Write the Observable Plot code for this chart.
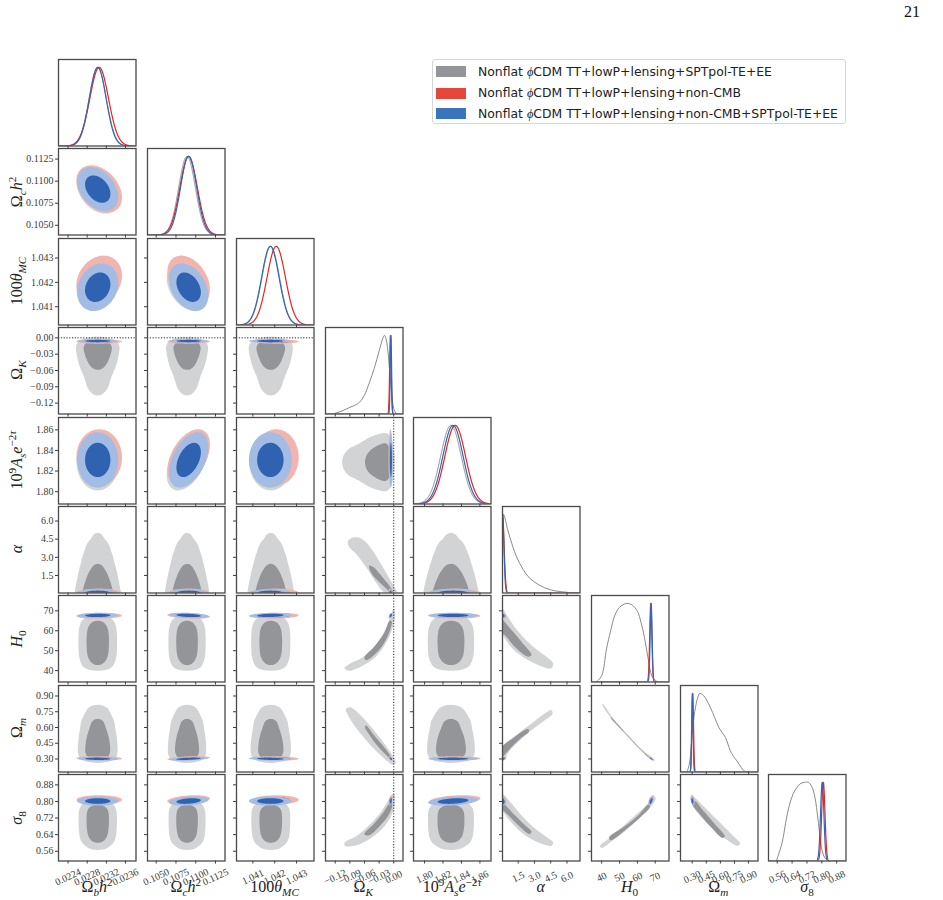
<!DOCTYPE html>
<html><head><meta charset="utf-8">
<script src="https://cdn.jsdelivr.net/npm/d3@7"></script>
<script src="https://cdn.jsdelivr.net/npm/@observablehq/plot@0.6"></script>
<style>
html,body{margin:0;padding:0;background:#fff;}
#fig{position:relative;width:943px;height:900px;overflow:hidden;background:#fff;}
.pan{position:absolute;}
.lab{position:absolute;font-family:'Liberation Serif','DejaVu Serif',serif;font-size:16px;color:#222;white-space:nowrap;line-height:1;}
.lab sub,.lab sup{font-size:70%;line-height:0;}
.legend{position:absolute;left:432px;top:59px;width:414px;height:65px;border:1px solid #d6d6d6;border-radius:3px;background:#fff;box-sizing:border-box;font-family:'DejaVu Sans',sans-serif;font-size:12.4px;color:#222;}
.legend .row{position:absolute;left:3px;height:14px;display:flex;align-items:center;white-space:nowrap;}
.legend .sw{width:30px;height:11px;margin-right:12px;}
.pnum{position:absolute;left:904px;top:3px;font-family:'Liberation Serif',serif;font-size:16px;color:#111;}
</style></head><body><div id="fig"></div>
<script>
// ---------------- data ----------------
const paramLabels = [
  'Ω<sub><i>b</i></sub><i>h</i><sup>2</sup>',
  'Ω<sub><i>c</i></sub><i>h</i><sup>2</sup>',
  '100<i>θ</i><sub><i>MC</i></sub>',
  'Ω<sub><i>K</i></sub>',
  '10<sup>9</sup><i>A</i><sub><i>s</i></sub><i>e</i><sup>−2<i>τ</i></sup>',
  '<i>α</i>',
  '<i>H</i><sub>0</sub>',
  'Ω<sub><i>m</i></sub>',
  '<i>σ</i><sub>8</sub>'
];
const axisDomains = [[0.02220,0.02382],[0.1039,0.1137],[1.04025,1.0438],[-0.14,0.019],[1.788,1.872],[0.05,7.2],[34.3,77.7],[0.176,1.0],[0.513,0.93]];
const tickValues = [[0.0224,0.0228,0.0232,0.0236],[0.1050,0.1075,0.1100,0.1125],[1.041,1.042,1.043],[-0.12,-0.09,-0.06,-0.03,0],[1.80,1.82,1.84,1.86],[1.5,3.0,4.5,6.0],[40,50,60,70],[0.30,0.45,0.60,0.75,0.90],[0.56,0.64,0.72,0.80,0.88]];
const tickLabels = [["0.0224","0.0228","0.0232","0.0236"],["0.1050","0.1075","0.1100","0.1125"],["1.041","1.042","1.043"],["−0.12","−0.09","−0.06","−0.03","0.00"],["1.80","1.82","1.84","1.86"],["1.5","3.0","4.5","6.0"],["40","50","60","70"],["0.30","0.45","0.60","0.75","0.90"],["0.56","0.64","0.72","0.80","0.88"]];
const legendLabels = ["Nonflat <i style=\"font-family:'Liberation Serif',serif\">ϕ</i>CDM TT+lowP+lensing+SPTpol-TE+EE","Nonflat <i style=\"font-family:'Liberation Serif',serif\">ϕ</i>CDM TT+lowP+lensing+non-CMB","Nonflat <i style=\"font-family:'Liberation Serif',serif\">ϕ</i>CDM TT+lowP+lensing+non-CMB+SPTpol-TE+EE"];

// gaussian summaries (mean, sd) per parameter; null = non-gaussian (read curve)
const grayMean = [0.02302, 0.1089, 1.04182, null, 1.8286, null, null, null, null];
const graySd   = [0.00018, 0.00105, 0.00040, null, 0.0112, null, null, null, null];
const redMean  = [0.02305, 0.1091, 1.04207, -0.0068, 1.8332, 0.05, 67.5, 0.306, 0.808];
const redSd    = [0.000195, 0.0011, 0.00042, 0.0016, 0.0112, 0.15, 0.6, 0.0085, 0.009];
const blueMean = [0.02302, 0.1091, 1.04180, -0.0058, 1.8308, 0.05, 67.7, 0.302, 0.802];
const blueSd   = [0.000175, 0.00102, 0.00040, 0.0014, 0.011, 0.13, 0.55, 0.0075, 0.009];
// correlation coefficients (row parameter vs column parameter)
const corrRows = [
  [],
  [-0.35],
  [0.2, -0.35],
  [0, 0, 0],
  [0, 0.45, 0, 0],
  [0, 0, 0, -0.3, 0],
  [0.1, -0.3, 0.2, 0.5, 0, -0.3],
  [-0.1, 0.4, -0.2, -0.5, 0, 0.3, -0.9],
  [0, 0.3, 0, 0.6, 0.3, -0.3, 0.7, -0.5]
];
// gray marginal curves
const grayOmegaKx = [-0.125,-0.11,-0.10,-0.09,-0.08,-0.07,-0.06,-0.05,-0.04,-0.03,-0.022,-0.019,-0.016,-0.012,-0.008,-0.004,0.0,0.004,0.008];
const grayOmegaKd = [0,0.03,0.055,0.085,0.11,0.15,0.24,0.40,0.58,0.80,0.97,1.0,0.96,0.80,0.52,0.24,0.07,0.015,0];
const grayAlphax = [0.05,0.15,0.5,0.75,1.0,1.35,1.95,2.55,3.45,4.5,5.9,7.0];
const grayAlphad = [1.0,1.0,0.82,0.70,0.59,0.46,0.30,0.19,0.10,0.04,0.01,0.002];
const grayH0x = [37,40,42.7,45,47.4,50,54,57,60,62,64,66,68,70,72];
const grayH0d = [0,0.08,0.42,0.65,0.85,0.95,1.0,0.98,0.9,0.76,0.56,0.3,0.08,0.02,0];
const grayOmegaMx = [0.245,0.27,0.289,0.31,0.335,0.36,0.381,0.423,0.46,0.494,0.54,0.582,0.62,0.654,0.706,0.75,0.777,0.82,0.847,0.87];
const grayOmegaMd = [0,0.1,0.31,0.6,0.82,0.95,1.0,0.97,0.9,0.82,0.69,0.57,0.5,0.44,0.27,0.18,0.14,0.06,0.02,0];
const graySigma8x = [0.555,0.585,0.611,0.63,0.647,0.665,0.682,0.705,0.727,0.745,0.762,0.78,0.798,0.816,0.835];
const graySigma8d = [0,0.22,0.56,0.75,0.86,0.93,0.98,1.0,1.0,0.95,0.82,0.52,0.17,0.04,0];
// gray 2D contour outlines [x (column param), y (row param)]
const grayAlphaOkOuter = [[-0.0944,4.25],[-0.0876,4.58],[-0.0706,4.61],[-0.057,4.25],[-0.0434,3.56],[-0.0265,2.46],[-0.0095,1.30],[0.0007,0.59],[0.0075,0.0],[-0.0163,0.0],[-0.0366,0.945],[-0.057,2.19],[-0.0774,3.29],[-0.091,3.84]];
const grayAlphaOkInner = [[-0.0502,2.32],[-0.042,2.2],[-0.023,1.36],[-0.006,0.48],[-0.002,0.15],[-0.009,0.12],[-0.0128,0.31],[-0.033,1.08],[-0.047,1.77]];
const grayH0OkOuter = [[-0.1012,41.2],[-0.091,43.33],[-0.0672,46.18],[-0.0401,52.03],[-0.0197,59.55],[-0.0061,67.08],[-0.0007,70.76],[0.0027,69.6],[-0.0027,61.23],[-0.0163,53.7],[-0.0367,47.01],[-0.0638,42.5],[-0.091,39.99]];
const grayH0OkInner = [[-0.060,46.7],[-0.0401,52.0],[-0.0197,58.7],[-0.0082,65.1],[-0.0041,64.6],[-0.0129,57.0],[-0.0333,49.5],[-0.057,45.3]];
const grayOmOkOuter = [[-0.0978,0.777],[-0.089,0.793],[-0.0672,0.713],[-0.0401,0.570],[-0.0163,0.4275],[-0.0027,0.332],[0.0041,0.259],[-0.0027,0.2465],[-0.0129,0.278],[-0.0333,0.364],[-0.057,0.4815],[-0.0808,0.618],[-0.0958,0.7355]];
const grayOmOkInner = [[-0.057,0.618],[-0.0401,0.523],[-0.0197,0.411],[-0.0061,0.322],[-0.0048,0.29],[-0.0163,0.341],[-0.0367,0.443],[-0.0536,0.554],[-0.059,0.6]];
const grayS8OkOuter = [[-0.1012,0.6004],[-0.074,0.6374],[-0.0468,0.6936],[-0.0265,0.7498],[-0.0129,0.798],[-0.0048,0.830],[0.0007,0.838],[0.0027,0.819],[0.0007,0.766],[-0.0095,0.713],[-0.0265,0.6615],[-0.0536,0.6133],[-0.0808,0.586],[-0.0999,0.585]];
const grayS8OkInner = [[-0.0604,0.642],[-0.0401,0.694],[-0.0231,0.7418],[-0.0095,0.79],[-0.0048,0.803],[-0.0034,0.774],[-0.0129,0.726],[-0.0299,0.678],[-0.0502,0.637]];
const grayH0AlphaOuter = [[0.0,71.26],[0.723,65.41],[1.646,58.72],[2.876,52.03],[4.107,47.01],[4.72,43.67],[4.567,41.16],[3.49,42.5],[2.26,45.67],[1.03,50.69],[0.26,56.21],[0.0,58.72]];
const grayH0AlphaInner = [[0.0,65.4],[0.877,60.4],[1.8,54.5],[2.72,47.8],[2.41,47.0],[1.33,51.2],[0.41,57.0],[0.0,59.6]];
const grayOmAlphaOuter = [[0.0,0.364],[0.723,0.459],[1.646,0.5545],[2.876,0.6497],[4.107,0.745],[4.567,0.767],[4.66,0.729],[4.107,0.6815],[2.876,0.5863],[1.646,0.475],[0.723,0.380],[0.2,0.294],[0.0,0.284]];
const grayOmAlphaInner = [[0.0,0.4116],[0.877,0.491],[2.41,0.586],[2.5,0.564],[1.646,0.491],[0.723,0.396],[0.1,0.322],[0.0,0.31]];
const grayS8AlphaOuter = [[0.0,0.838],[0.63,0.806],[1.646,0.742],[2.876,0.6775],[4.107,0.629],[4.72,0.602],[4.567,0.586],[3.49,0.60],[2.26,0.6325],[1.03,0.689],[0.26,0.7386],[0.0,0.761]];
const grayS8AlphaInner = [[0.0,0.795],[1.03,0.742],[1.95,0.694],[2.72,0.654],[2.56,0.643],[1.646,0.678],[0.723,0.726],[0.0,0.766]];
const grayOmH0Outer = [[40.5,0.828],[46.9,0.677],[54.4,0.536],[61.9,0.400],[69.6,0.297],[69.8,0.284],[61.9,0.381],[54.4,0.515],[46.9,0.654],[40.5,0.81]];
const grayOmH0Inner = [[45,0.70],[54.4,0.5285],[61.9,0.3935],[66.5,0.318],[66.5,0.311],[61.9,0.3875],[54.4,0.5225],[45,0.692]];
const grayS8H0Outer = [[39.08,0.586],[45.06,0.629],[52.53,0.6856],[59.99,0.742],[66.52,0.798],[68.95,0.830],[70.26,0.814],[67.46,0.774],[59.99,0.710],[52.53,0.6534],[45.06,0.605],[39.8,0.576]];
const grayS8H0Inner = [[44.1,0.626],[52.5,0.678],[60.0,0.729],[66.5,0.787],[67.1,0.774],[60.9,0.718],[53.5,0.665],[45.1,0.613]];
const grayS8OmOuter = [[0.2937,0.8334],[0.3397,0.814],[0.4638,0.758],[0.6055,0.6936],[0.7296,0.6374],[0.811,0.5972],[0.7826,0.586],[0.6763,0.6133],[0.5346,0.6615],[0.4106,0.7177],[0.322,0.766],[0.2866,0.806]];
const grayS8OmInner = [[0.322,0.805],[0.428,0.750],[0.552,0.685],[0.648,0.632],[0.624,0.624],[0.4992,0.677],[0.375,0.742],[0.304,0.787]];

// ---------------- lookups built from the arrays ----------------
const grayCurves = {3:[grayOmegaKx,grayOmegaKd],5:[grayAlphax,grayAlphad],6:[grayH0x,grayH0d],7:[grayOmegaMx,grayOmegaMd],8:[graySigma8x,graySigma8d]};
const grayPolys = {
  "5,3":[grayAlphaOkOuter,grayAlphaOkInner], "6,3":[grayH0OkOuter,grayH0OkInner], "7,3":[grayOmOkOuter,grayOmOkInner], "8,3":[grayS8OkOuter,grayS8OkInner],
  "6,5":[grayH0AlphaOuter,grayH0AlphaInner], "7,5":[grayOmAlphaOuter,grayOmAlphaInner], "8,5":[grayS8AlphaOuter,grayS8AlphaInner],
  "7,6":[grayOmH0Outer,grayOmH0Inner], "8,6":[grayS8H0Outer,grayS8H0Inner], "8,7":[grayS8OmOuter,grayS8OmInner]
};

// ---------------- styles / layout ----------------
const C = {gOut:"#d2d3d5", gIn:"#939598", rOut:"#f2b5ae", rIn:"#e2493d", bOut:"#a3bce4", bIn:"#2f63b2",
           g1:"#7d7d7d", r1:"#e8251e", b1:"#3566b6", frame:"#4a4a4a"};
const PW = 77.5, PH = 86.5, X0 = 58.3, DX = 88.75, Y0 = 58.9, DY = 89.43;
const K68 = Math.sqrt(2.2958), K95 = Math.sqrt(5.9915);

function interp(xs, ds, x, leftVal) {
  if (x <= xs[0]) return leftVal;
  if (x >= xs[xs.length-1]) return 0;
  const k = d3.bisectRight(xs, x) - 1;
  const t = (x - xs[k]) / (xs[k+1] - xs[k]);
  return ds[k] + t * (ds[k+1] - ds[k]);
}
function grayMarginal(p) {
  if (grayCurves[p]) { const [xs, ds] = grayCurves[p]; const lv = p === 5 ? ds[0] : 0; return x => interp(xs, ds, x, lv); }
  const m = grayMean[p], s = graySd[p];
  return x => Math.exp(-0.5 * ((x - m) / s) ** 2);
}
function gaussCurve(m, s, dom) {
  const n = 700;
  return d3.range(n + 1).map(k => { const x = dom[0] + k / n * (dom[1] - dom[0]); return {x, d: Math.exp(-0.5 * ((x - m) / s) ** 2)}; });
}
function ellipse(mx, my, sx, sy, r, k) {
  const n = 96, s = Math.sqrt(1 - r * r);
  return d3.range(n).map(q => { const t = 2 * Math.PI * q / n, c = Math.cos(t), si = Math.sin(t);
    return [mx + k * sx * c, my + k * sy * (r * c + s * si)]; });
}
function hpdLevels(f, dx, dy) {
  const N = 220, vals = [];
  for (let a = 0; a < N; a++) for (let b = 0; b < N; b++) {
    vals.push(f(dx[0] + (a + 0.5) / N * (dx[1] - dx[0]), dy[0] + (b + 0.5) / N * (dy[1] - dy[0])));
  }
  vals.sort((u, v) => v - u);
  const tot = d3.sum(vals); let c = 0, t68, t95;
  for (const v of vals) { c += v; if (t68 === undefined && c >= 0.68 * tot) t68 = v; if (c >= 0.95 * tot) { t95 = v; break; } }
  return [t68, t95];
}
function poly(pts, fill, curve) {
  return Plot.line(pts, {x: d => d[0], y: d => d[1], fill, stroke: "none", curve, clip: true});
}

function panel(i, j, mL, mR, mT, mB) {
  const marks = [], diag = i === j, dx = axisDomains[j], dy = diag ? [0, 1.1] : axisDomains[i];
  if (diag) {
    if (grayCurves[j]) {
      const [xs, ds] = grayCurves[j];
      marks.push(Plot.line(xs.map((x, k) => ({x, d: ds[k]})), {x: "x", y: "d", curve: "catmull-rom", stroke: C.g1, strokeWidth: 0.9, clip: true}));
    } else {
      marks.push(Plot.line(gaussCurve(grayMean[j], graySd[j], dx), {x: "x", y: "d", stroke: C.g1, strokeWidth: 0.9, clip: true}));
    }
    marks.push(Plot.line(gaussCurve(redMean[j], redSd[j], dx), {x: "x", y: "d", stroke: C.r1, strokeWidth: 1.2, clip: true}));
    marks.push(Plot.line(gaussCurve(blueMean[j], blueSd[j], dx), {x: "x", y: "d", stroke: C.b1, strokeWidth: 1.2, clip: true}));
  } else {
    const r = corrRows[i][j], key = i + "," + j;
    if (grayPolys[key]) {
      marks.push(poly(grayPolys[key][0], C.gOut, "catmull-rom-closed"));
      marks.push(poly(grayPolys[key][1], C.gIn, "catmull-rom-closed"));
    } else if (grayMean[i] != null && grayMean[j] != null) {
      marks.push(poly(ellipse(grayMean[j], grayMean[i], graySd[j], graySd[i], r, K95), C.gOut, "linear-closed"));
      marks.push(poly(ellipse(grayMean[j], grayMean[i], graySd[j], graySd[i], r, K68), C.gIn, "linear-closed"));
    } else {
      const fx = grayMarginal(j), fy = grayMarginal(i);
      const f = (x, y) => fx(x) * fy(y);
      const [t68, t95] = hpdLevels(f, dx, dy);
      const base = {value: f, x1: dx[0], x2: dx[1], y1: dy[0], y2: dy[1], stroke: "none", pixelSize: 0.5, clip: true};
      marks.push(Plot.contour({...base, thresholds: [t95], fill: C.gOut}));
      marks.push(Plot.contour({...base, thresholds: [t68], fill: C.gIn}));
    }
    marks.push(poly(ellipse(redMean[j], redMean[i], redSd[j], redSd[i], r, K95), C.rOut, "linear-closed"));
    marks.push(poly(ellipse(redMean[j], redMean[i], redSd[j], redSd[i], r, K68), C.rIn, "linear-closed"));
    marks.push(poly(ellipse(blueMean[j], blueMean[i], blueSd[j], blueSd[i], r, K95), C.bOut, "linear-closed"));
    marks.push(poly(ellipse(blueMean[j], blueMean[i], blueSd[j], blueSd[i], r, K68), C.bIn, "linear-closed"));
    if (i === 3) marks.push(Plot.ruleY([0], {stroke: "#111", strokeWidth: 0.9, strokeDasharray: "1.2,1.6", clip: true}));
    if (j === 3) marks.push(Plot.ruleX([0], {stroke: "#111", strokeWidth: 0.9, strokeDasharray: "1.2,1.6", clip: true}));
  }
  const xfmt = i === 8 ? (d => tickLabels[j][tickValues[j].indexOf(d)]) : (() => "");
  marks.push(Plot.axisX({ticks: tickValues[j], tickSize: 3, tickFormat: xfmt, label: null,
    ...(i === 8 ? {tickRotate: -25, textAnchor: "middle", lineAnchor: "middle", tickPadding: 13} : {})}));
  if (!diag) {
    const yfmt = j === 0 ? (d => tickLabels[i][tickValues[i].indexOf(d)]) : (() => "");
    marks.push(Plot.axisY({ticks: tickValues[i], tickSize: 3, tickPadding: 2, tickFormat: yfmt, label: null}));
  }
  marks.push(Plot.frame({stroke: C.frame, strokeWidth: 1.3}));
  return Plot.plot({
    width: PW + mL + mR, height: PH + mT + mB,
    marginLeft: mL, marginRight: mR, marginTop: mT, marginBottom: mB,
    x: {domain: dx}, y: diag ? {domain: dy, axis: null} : {domain: dy},
    style: {fontFamily: "'Liberation Serif','DejaVu Serif',serif", fontSize: "10px", background: "transparent", overflow: "visible", color: "#3a3a3a"},
    marks
  });
}

// ---------------- build ----------------
const fig = document.getElementById("fig");
for (let i = 0; i < 9; i++) for (let j = 0; j <= i; j++) {
  const mL = j === 0 ? 46 : 4, mR = 4, mT = 4, mB = i === 8 ? 34 : 6;
  const el = panel(i, j, mL, mR, mT, mB);
  const wrap = document.createElement("div");
  wrap.className = "pan";
  wrap.style.left = (X0 + DX * j - mL) + "px";
  wrap.style.top = (Y0 + DY * i - mT) + "px";
  wrap.appendChild(el);
  fig.appendChild(wrap);
}
// axis labels
for (let j = 0; j < 9; j++) {
  const d = document.createElement("div"); d.className = "lab"; d.innerHTML = paramLabels[j];
  d.style.left = (X0 + DX * j + PW / 2) + "px"; d.style.top = "887px";
  d.style.transform = "translate(-50%,-50%)"; fig.appendChild(d);
}
for (let i = 1; i < 9; i++) {
  const d = document.createElement("div"); d.className = "lab"; d.innerHTML = paramLabels[i];
  d.style.left = "17px"; d.style.top = (Y0 + DY * i + PH / 2) + "px";
  d.style.transform = "translate(-50%,-50%) rotate(-90deg)"; fig.appendChild(d);
}
// legend
const lg = document.createElement("div"); lg.className = "legend";
const swatches = [C.gIn, "#e5483b", "#3a74bd"], rowTops = [4.7, 26.3, 46.7];
legendLabels.forEach((t, k) => {
  const r = document.createElement("div"); r.className = "row"; r.style.top = rowTops[k] + "px";
  r.innerHTML = `<span class="sw" style="background:${swatches[k]}"></span><span>${t}</span>`;
  lg.appendChild(r);
});
fig.appendChild(lg);
const pn = document.createElement("div"); pn.className = "pnum"; pn.textContent = "21"; fig.appendChild(pn);
</script></body></html>
